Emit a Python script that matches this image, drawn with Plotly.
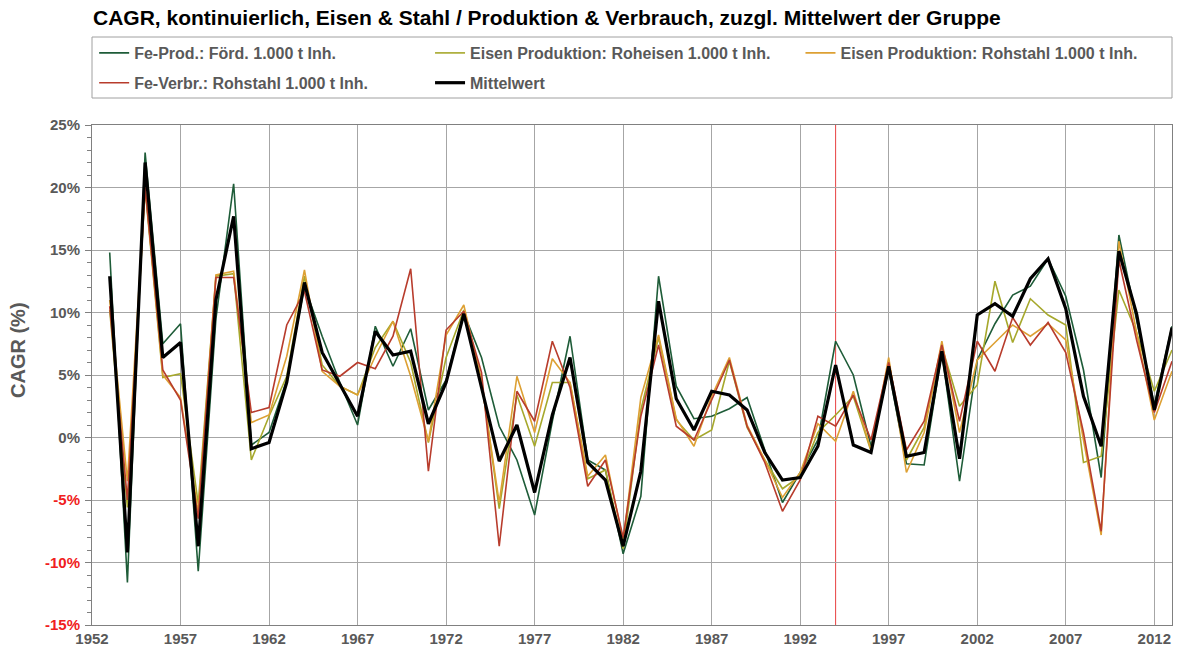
import plotly.graph_objects as go

years = list(range(1953, 2014))

fe_prod_foerd = [14.8, -11.6, 22.8, 7.5, 9.1, -10.7, 9.5, 20.3, -0.6, 0.4,
                 4.6, 12.1, 8.1, 4.4, 1.0, 8.9, 5.7, 8.7, 2.2, 4.6,
                 9.95, 6.4, 0.9, -1.8, -6.2, 1.3, 8.1, -1.8, -2.6, -9.3,
                 -4.7, 12.9, 4.1, 1.5, 1.7, 2.3, 3.2, -1.0, -5.2, -2.8,
                 -0.2, 7.7, 5.0, -0.7, 5.4, -2.1, -2.2, 6.8, -3.5, 6.2,
                 9.1, 11.4, 12.1, 14.3, 11.3, 5.4, -3.2, 16.2, 9.4, 2.6, 8.9]

roheisen = [10.2, -5.6, 19.9, 4.8, 5.1, -5.3, 12.9, 13.1, -1.8, 1.7,
            4.9, 12.9, 5.8, 4.1, 3.4, 7.2, 9.3, 6.0, -0.4, 6.4,
            10.2, 4.6, -5.7, 3.4, -0.7, 4.4, 4.4, -3.3, -2.6, -8.9,
            2.2, 8.0, 1.4, -0.2, 0.6, 6.1, 0.8, -1.8, -4.1, -3.1,
            0.4, 1.8, 3.3, -1.1, 6.1, -1.8, 0.8, 7.3, 2.5, 4.2,
            12.5, 7.6, 11.1, 9.8, 9.0, -2.0, -1.5, 11.8, 8.4, 3.7, 7.0]

rohstahl_prod = [11.0, -3.5, 20.2, 5.0, 3.2, -6.0, 13.0, 13.3, 1.2, 1.8,
                 6.5, 13.4, 5.3, 4.1, 3.4, 6.5, 9.3, 4.9, -0.3, 8.2,
                 10.6, 4.4, -5.2, 4.9, 0.4, 6.3, 4.4, -3.1, -1.4, -8.3,
                 3.2, 8.2, 1.5, -0.7, 3.3, 6.4, 1.0, -1.8, -4.8, -2.8,
                 1.1, -0.3, 3.7, -1.0, 6.4, -2.8, 0.4, 7.7, 0.4, 6.2,
                 7.6, 9.0, 8.1, 9.1, 7.8, -0.2, -7.8, 15.7, 8.4, 1.4, 5.3]

verbr_rohstahl = [10.5, -5.0, 20.0, 5.4, 3.0, -6.5, 12.8, 12.8, 2.0, 2.4,
                  9.0, 11.7, 5.4, 4.9, 6.0, 5.5, 8.1, 13.5, -2.7, 8.6,
                  10.1, 5.2, -8.7, 3.7, 1.3, 7.7, 4.0, -3.9, -1.8, -8.0,
                  1.7, 7.4, 0.9, -0.2, 3.0, 6.2, 0.9, -2.0, -5.9, -3.4,
                  1.7, 0.9, 3.4, -0.2, 6.0, -1.0, 1.3, 7.4, 1.3, 7.7,
                  5.3, 9.6, 7.4, 9.2, 6.8, 0.4, -7.5, 14.2, 7.8, 2.0, 6.1]

mittelwert = [12.9, -9.2, 22.0, 6.4, 7.6, -8.7, 11.0, 17.7, -0.9, -0.4,
              4.4, 12.4, 6.8, 4.2, 1.7, 8.5, 6.6, 6.9, 1.1, 4.4,
              9.9, 4.0, -1.9, 1.0, -4.4, 1.8, 6.4, -2.0, -3.4, -8.7,
              -2.7, 10.9, 3.1, 0.6, 3.7, 3.4, 2.2, -1.2, -3.4, -3.2,
              -0.7, 5.8, -0.6, -1.2, 5.7, -1.5, -1.2, 6.9, -1.7, 9.8,
              10.7, 9.7, 12.7, 14.3, 10.3, 3.3, -0.7, 14.9, 9.9, 2.2, 8.8]

marker_year = 1994
y_ticks = [-15, -10, -5, 0, 5, 10, 15, 20, 25]
x_ticks = list(range(1952, 2013, 5))

series = [
    ("Fe-Prod.: Förd. 1.000 t Inh.", fe_prod_foerd, "#1E5C38", 1.6, "legend"),
    ("Fe-Verbr.: Rohstahl 1.000 t Inh.", verbr_rohstahl, "#B83C2C", 1.6, "legend"),
    ("Eisen Produktion: Roheisen 1.000 t Inh.", roheisen, "#A6A82C", 1.6, "legend2"),
    ("Mittelwert", mittelwert, "#000000", 3.2, "legend2"),
    ("Eisen Produktion: Rohstahl 1.000 t Inh.", rohstahl_prod, "#DDA033", 1.6, "legend3"),
]
draw_order = [0, 2, 4, 1, 3]

fig = go.Figure()
for i in draw_order:
    name, vals, col, w, lg = series[i]
    fig.add_trace(go.Scatter(
        x=years, y=vals, mode="lines", name=name,
        line=dict(color=col, width=w), legend=lg, legendgroup=name,
    ))

def fmt(v):
    t = f"{v}%"
    if v < 0:
        return f"<span style='color:#F02020'>{t}</span>"
    return t

grid = "#A6A6A6"
font_c = "#595959"
FONT = "Liberation Sans, Arial"
leg_common = dict(
    orientation="v", yanchor="top", xanchor="left",
    font=dict(family=FONT, size=16, color=font_c, weight="bold"),
    bgcolor="rgba(0,0,0,0)", borderwidth=0, tracegroupgap=6,
    itemwidth=30,
)

fig.update_layout(
    width=1179, height=653,
    margin=dict(l=92, r=7, t=125, b=28),
    paper_bgcolor="white", plot_bgcolor="white",
    font=dict(family=FONT, color=font_c),
    title=dict(
        text="<b>CAGR, kontinuierlich, Eisen &amp; Stahl / Produktion &amp; Verbrauch, zuzgl. Mittelwert der Gruppe</b>",
        x=93 / 1179, xanchor="left", y=1 - 18 / 653, yanchor="middle",
        font=dict(family=FONT, size=21, color="#000000"),
    ),
    showlegend=True,
    legend=dict(x=0.002, y=1.178, **leg_common),
    legend2=dict(x=0.313, y=1.178, **leg_common),
    legend3=dict(x=0.656, y=1.178, **leg_common),
    xaxis=dict(
        range=[1952, 2013], tickmode="array", tickvals=x_ticks,
        ticktext=[str(v) for v in x_ticks],
        tickfont=dict(family=FONT, size=15, color=font_c, weight="bold"),
        showgrid=True, gridcolor=grid, gridwidth=1,
        showline=True, linecolor="#808080", linewidth=1, mirror=True,
        ticks="", zeroline=False,
    ),
    yaxis=dict(
        range=[-15, 25], tickmode="array", tickvals=y_ticks,
        ticktext=[fmt(v) for v in y_ticks],
        tickfont=dict(family=FONT, size=15, color=font_c, weight="bold"),
        showgrid=True, gridcolor=grid, gridwidth=1,
        showline=True, linecolor="#808080", linewidth=1, mirror=True,
        ticks="outside", ticklen=6, tickcolor="#808080",
        ticklabelstandoff=2,
        minor=dict(dtick=1, ticks="outside", ticklen=4, tickcolor="#808080", showgrid=False),
        zeroline=False,
    ),
    shapes=[
        dict(type="rect", xref="paper", yref="paper", x0=0, x1=1,
             y0=(625 - 98) / 500, y1=(625 - 37) / 500,
             line=dict(color="#A0A0A0", width=1), fillcolor="rgba(0,0,0,0)"),
        dict(type="line", xref="x", yref="paper", x0=marker_year, x1=marker_year,
             y0=0, y1=1, line=dict(color="#E84040", width=1), layer="between"),
    ],
    annotations=[
        dict(text="<b>CAGR (%)</b>", xref="paper", yref="paper",
             x=(18 - 92) / 1080, y=(625 - 350) / 500, textangle=-90,
             showarrow=False, font=dict(family=FONT, size=20, color=font_c),
             xanchor="center", yanchor="middle"),
    ],
)

fig.write_html("out.html", config={"displayModeBar": False},
               post_script="document.body.style.margin='0px';")
